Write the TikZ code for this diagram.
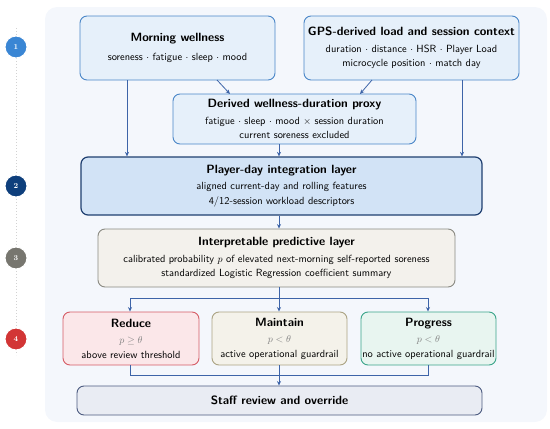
\documentclass[tikz,border=0pt]{standalone}
\usetikzlibrary{arrows.meta}
\definecolor{panel}{HTML}{F4F7FC}
\definecolor{arr}{HTML}{3D64A8}
\definecolor{bluef}{HTML}{E6F0FA}
\definecolor{blued}{HTML}{4A86C8}
\definecolor{intf}{HTML}{D2E3F6}
\definecolor{intd}{HTML}{1F3F70}
\definecolor{grayf}{HTML}{F3F1EC}
\definecolor{grayd}{HTML}{8A8A82}
\definecolor{redf}{HTML}{FBE7E9}
\definecolor{redd}{HTML}{D65C66}
\definecolor{mainf}{HTML}{F4F2EA}
\definecolor{maind}{HTML}{ABA383}
\definecolor{greenf}{HTML}{E8F5F0}
\definecolor{greend}{HTML}{3AA58A}
\definecolor{stafff}{HTML}{E9ECF3}
\definecolor{staffd}{HTML}{4C5B80}
\definecolor{cA}{HTML}{3A86D4}
\definecolor{cB}{HTML}{0E3F7C}
\definecolor{cC}{HTML}{77766F}
\definecolor{cD}{HTML}{D23535}
\tikzset{
  box/.style={draw, rounded corners=7pt, line width=0.9pt, align=center, inner sep=0pt,
    font=\sffamily\fontsize{10.4}{12.5}\selectfont},
  con/.style={draw=arr, line width=0.8pt, -{Stealth[length=4.5pt,width=4pt]}},
  lin/.style={draw=arr, line width=0.8pt},
  stepdot/.style={circle, minimum size=22pt, inner sep=0pt, text=white, draw=white, line width=1pt,
    font=\rmfamily\bfseries\fontsize{7.5}{8}\selectfont},
}
\newcommand{\ttl}[1]{{\fontsize{12}{14}\selectfont\bfseries #1}}
\begin{document}
\begin{tikzpicture}[x=1pt,y=-1pt]
\useasboundingbox (0,0) rectangle (550,429);
\fill[panel, rounded corners=12pt] (45,7) rectangle (547,422);
% timeline
\draw[gray!35, line width=1pt, dotted] (16,28) -- (16,355);
\node[stepdot, fill=cA] (s1) at (16,47) {1};
\node[stepdot, fill=cB] (s2) at (16,186) {2};
\node[stepdot, fill=cC] (s3) at (16,258) {3};
\node[stepdot, fill=cD] (s4) at (16,339) {4};
% boxes
\node[box, fill=bluef, draw=blued, minimum width=195pt, minimum height=64pt] (mw) at (177.5,48)
  {\ttl{Morning wellness}\\[6pt] soreness $\cdot$ fatigue $\cdot$ sleep $\cdot$ mood};
\node[box, fill=bluef, draw=blued, minimum width=215pt, minimum height=64pt] (gps) at (411.5,48)
  {\ttl{GPS-derived load and session context}\\[4pt] duration $\cdot$ distance $\cdot$ HSR $\cdot$ Player Load\\[2pt] microcycle position $\cdot$ match day};
\node[box, fill=bluef, draw=blued, minimum width=243pt, minimum height=50pt] (dw) at (294.5,119)
  {\ttl{Derived wellness-duration proxy}\\[4pt] fatigue $\cdot$ sleep $\cdot$ mood $\times$ session duration\\[2pt] current soreness excluded};
\node[box, fill=intf, draw=intd, line width=1.2pt, minimum width=401pt, minimum height=58pt] (pd) at (281.5,186)
  {\ttl{Player-day integration layer}\\[4pt] aligned current-day and rolling features\\[2pt] 4/12-session workload descriptors};
\node[box, fill=grayf, draw=grayd, minimum width=357pt, minimum height=58pt] (ip) at (276.5,258)
  {\ttl{Interpretable predictive layer}\\[4pt] calibrated probability $p$ of elevated next-morning self-reported soreness\\[2pt] standardized Logistic Regression coefficient summary};
\node[box, fill=redf, draw=redd, minimum width=136pt, minimum height=53pt] (rd) at (131,338.5)
  {\ttl{Reduce}\\[4pt] {\color{gray}$p\geq\theta$}\\[2pt] above review threshold};
\node[box, fill=mainf, draw=maind, minimum width=135pt, minimum height=53pt] (mt) at (279.5,338.5)
  {\ttl{Maintain}\\[4pt] {\color{gray}$p<\theta$}\\[2pt] active operational guardrail};
\node[box, fill=greenf, draw=greend, minimum width=135pt, minimum height=53pt] (pg) at (428.5,338.5)
  {\ttl{Progress}\\[4pt] {\color{gray}$p<\theta$}\\[2pt] no active operational guardrail};
\node[box, fill=stafff, draw=staffd, minimum width=405pt, minimum height=29pt] (st) at (279.5,400.5)
  {\ttl{Staff review and override}};
% connectors
\draw[con] (mw.south -| 127,0) -- (pd.north -| 127,0);
\draw[con] (gps.south -| 462,0) -- (pd.north -| 462,0);
\draw[con] (217,80) -- (230,94);
\draw[con] (372,80) -- (360,94);
\draw[con] (dw.south -| 279,0) -- (pd.north -| 279,0);
\draw[con] (pd.south -| 279,0) -- (ip.north -| 279,0);
\coordinate (sp) at (279,298);
\draw[lin] (ip.south -| 279,0) -- (sp);
\draw[lin] (130,298) -- (428,298);
\draw[con] (130,298) -- (rd.north -| 130,0);
\draw[con] (279,298) -- (mt.north -| 279,0);
\draw[con] (428,298) -- (pg.north -| 428,0);
\coordinate (jn) at (279,375);
\draw[lin] (rd.south -| 130,0) -- (130,375) -- (428,375) -- (pg.south -| 428,0);
\draw[lin] (mt.south -| 279,0) -- (jn);
\draw[con] (jn) -- (st.north -| 279,0);
\end{tikzpicture}
\end{document}
